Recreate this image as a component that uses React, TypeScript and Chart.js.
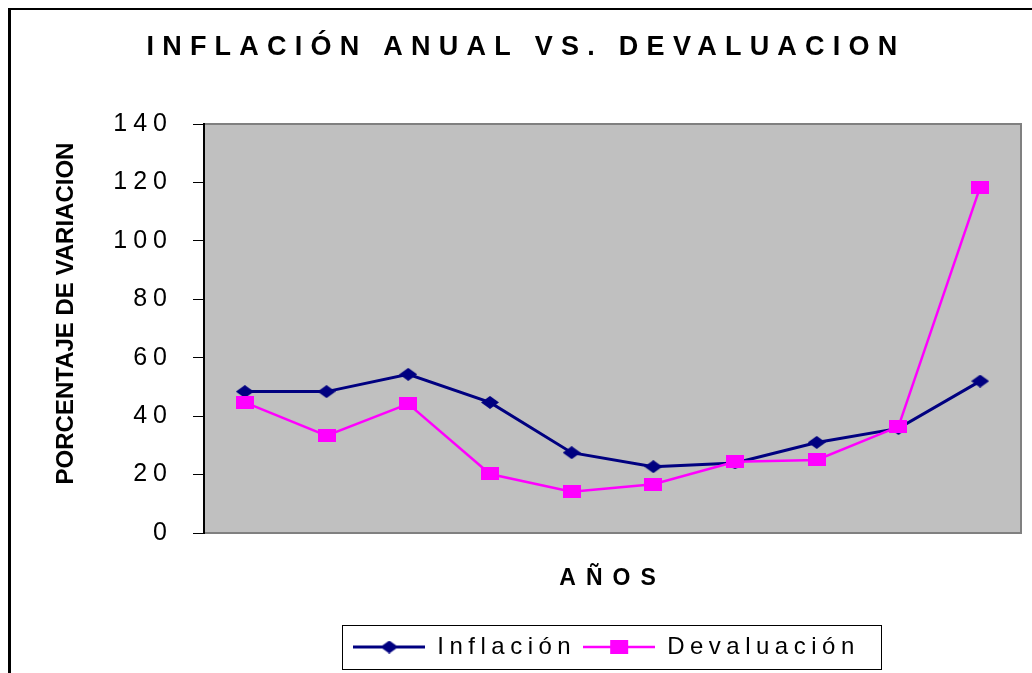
import React, { useEffect, useRef } from 'react';
import { Chart, registerables } from 'chart.js';

Chart.register(...registerables);

// ---- data ----
const categories = ['1', '2', '3', '4', '5', '6', '7', '8', '9', '10'];
const inflacion = [48.4, 48.4, 54.3, 44.7, 27.5, 22.7, 24.0, 31.0, 35.8, 52.0];
const devaluacion = [44.7, 33.3, 44.2, 20.2, 14.1, 16.7, 24.4, 25.0, 36.4, 118.4];
const yTicks = [0, 20, 40, 60, 80, 100, 120, 140];
const seriesNames = ['Inflación', 'Devaluación'];
const chartTitle = 'INFLACIÓN ANUAL VS. DEVALUACION';
const yTitle = 'PORCENTAJE DE VARIACION';
const xTitle = 'AÑOS';

const FONT = "'Liberation Sans', Arial, sans-serif";
const NAVY = '#000080';
const MAGENTA = '#FF00FF';

function makeMarker(kind: 'diamond' | 'square', color: string, w: number, h: number, lineLen = 0, lineWidth = 0) {
  const c = document.createElement('canvas');
  const W = Math.max(w, lineLen);
  const H = h;
  c.width = W;
  c.height = H;
  const g = c.getContext('2d')!;
  const cx = W / 2;
  const cy = H / 2;
  if (lineLen) {
    g.strokeStyle = color;
    g.lineWidth = lineWidth;
    g.beginPath();
    g.moveTo(0, cy);
    g.lineTo(W, cy);
    g.stroke();
  }
  g.fillStyle = color;
  g.beginPath();
  if (kind === 'diamond') {
    g.moveTo(cx - w / 2, cy);
    g.lineTo(cx, cy - h / 2);
    g.lineTo(cx + w / 2, cy);
    g.lineTo(cx, cy + h / 2);
    g.closePath();
  } else {
    g.rect(cx - w / 2, cy - h / 2, w, h);
  }
  g.fill();
  return c;
}

function wrap(obj: any, method: string, spacing: string, dx = 0, dy = 0) {
  if (!obj || obj['__w_' + method]) return;
  const orig = obj[method];
  obj[method] = function (...args: any[]) {
    const ctx = this.ctx;
    ctx.save();
    ctx.letterSpacing = spacing;
    if (dx || dy) ctx.translate(dx, dy);
    const r = orig.apply(this, args);
    ctx.restore();
    return r;
  };
  obj['__w_' + method] = true;
}

const LEGEND_SHIFT = -6;

const spacingPlugin = {
  id: 'spacing',
  beforeLayout(chart: any) {
    wrap(chart.legend, 'fit', '5.5px');
    wrap(chart.legend, 'draw', '5.5px', LEGEND_SHIFT, 0);
    wrap(chart.titleBlock, 'draw', '8.25px', 10, 0);
  },
  beforeDraw(chart: any) {
    wrap(chart.scales.y, 'drawLabels', '6px');
    wrap(chart.scales.y, 'drawTitle', '0px', 0, -15);
    wrap(chart.scales.x, 'drawTitle', '10px');
  },
};

const plotBgPlugin = {
  id: 'plotBg',
  beforeDraw(chart: any) {
    const { ctx, chartArea } = chart;
    const { left, top, right, bottom } = chartArea;
    ctx.save();
    ctx.fillStyle = '#C0C0C0';
    ctx.fillRect(left, top, right - left, bottom - top);
    ctx.strokeStyle = '#808080';
    ctx.lineWidth = 2;
    ctx.strokeRect(left, top, right - left, bottom - top);
    ctx.restore();
  },
};

const legendBoxPlugin = {
  id: 'legendBox',
  afterDraw(chart: any) {
    const lg = chart.legend;
    if (!lg || !lg.legendHitBoxes || !lg.legendHitBoxes.length) return;
    const hb = lg.legendHitBoxes;
    const first = hb[0];
    const last = hb[hb.length - 1];
    const l = Math.round(first.left + LEGEND_SHIFT - 11) + 0.5;
    const t = Math.round(first.top - 10) + 0.5;
    const r = Math.round(last.left + last.width + LEGEND_SHIFT + 21) + 0.5;
    const b = Math.round(first.top + first.height + 10) + 0.5;
    const ctx = chart.ctx;
    ctx.save();
    ctx.strokeStyle = '#000';
    ctx.lineWidth = 1;
    ctx.strokeRect(l, t, r - l, b - t);
    ctx.restore();
  },
};

export default function App() {
  const ref = useRef<HTMLCanvasElement>(null);

  useEffect(() => {
    const canvas = ref.current;
    if (!canvas) return;
    const diamond = makeMarker('diamond', NAVY, 18, 13);
    const square = makeMarker('square', MAGENTA, 18, 13);
    const legDiamond = makeMarker('diamond', NAVY, 18, 13, 72, 3);
    const legSquare = makeMarker('square', MAGENTA, 18, 14, 72, 2.5);
    const legendImgs = [legDiamond, legSquare];

    const chart = new Chart(canvas, {
      type: 'line',
      data: {
        labels: categories,
        datasets: [
          {
            label: seriesNames[0],
            data: inflacion,
            borderColor: NAVY,
            backgroundColor: NAVY,
            borderWidth: 3,
            pointStyle: diamond as any,
            pointRadius: 6,
            tension: 0,
            order: 2,
          },
          {
            label: seriesNames[1],
            data: devaluacion,
            borderColor: MAGENTA,
            backgroundColor: MAGENTA,
            borderWidth: 2.5,
            pointStyle: square as any,
            pointRadius: 6,
            tension: 0,
            order: 1,
          },
        ],
      },
      options: {
        responsive: false,
        animation: false,
        devicePixelRatio: 1,
        layout: { padding: { left: 0, right: 11, top: 0, bottom: 4 } },
        plugins: {
          title: {
            display: true,
            text: chartTitle,
            color: '#000',
            font: { family: FONT, size: 27, weight: 'bold', lineHeight: 1.2 },
            padding: { top: 21, bottom: 60.6 },
          },
          legend: {
            position: 'bottom',
            fullSize: false,
            labels: {
              usePointStyle: true,
              pointStyleWidth: 72,
              padding: 7,
              color: '#000',
              font: { family: FONT, size: 24 },
              sort: (a: any, b: any) => a.datasetIndex - b.datasetIndex,
              generateLabels: (ch: any) => {
                const items = (Chart.defaults.plugins.legend.labels as any).generateLabels(ch);
                items.forEach((it: any) => {
                  it.pointStyle = legendImgs[it.datasetIndex];
                });
                return items;
              },
            },
          },
          tooltip: { enabled: false },
        },
        scales: {
          x: {
            type: 'category',
            offset: true,
            grid: { display: false },
            border: { display: false },
            ticks: { display: false },
            title: {
              display: true,
              text: xTitle,
              color: '#000',
              font: { family: FONT, size: 23, weight: 'bold', lineHeight: 1.2 },
              padding: { top: 0, bottom: 36 },
            },
            afterFit: (s: any) => {
              s.height = 95;
            },
          },
          y: {
            min: 0,
            max: 140,
            afterBuildTicks: (s: any) => {
              s.ticks = yTicks.map((v) => ({ value: v }));
            },
            ticks: {
              color: '#000',
              font: { family: FONT, size: 25 },
              padding: 20,
            },
            grid: {
              drawOnChartArea: false,
              drawTicks: true,
              tickLength: 11,
              color: '#000',
              lineWidth: 1,
            },
            border: { display: true, color: '#000', width: 2 },
            title: {
              display: true,
              text: yTitle,
              color: '#000',
              font: { family: FONT, size: 24, weight: 'bold', lineHeight: 1.2 },
              padding: { top: 41, bottom: 0 },
            },
            afterFit: (s: any) => {
              s.width = 193;
            },
          },
        },
      } as any,
      plugins: [spacingPlugin, plotBgPlugin, legendBoxPlugin],
    });

    return () => chart.destroy();
  }, []);

  return (
    <div
      style={{
        position: 'absolute',
        left: 8,
        top: 8,
        width: 1024,
        height: 665,
        boxSizing: 'border-box',
        borderLeft: '3px solid #000',
        borderTop: '2px solid #000',
        background: '#fff',
      }}
    >
      <canvas ref={ref} width={1021} height={663} style={{ display: 'block', width: 1021, height: 663 }} />
    </div>
  );
}
